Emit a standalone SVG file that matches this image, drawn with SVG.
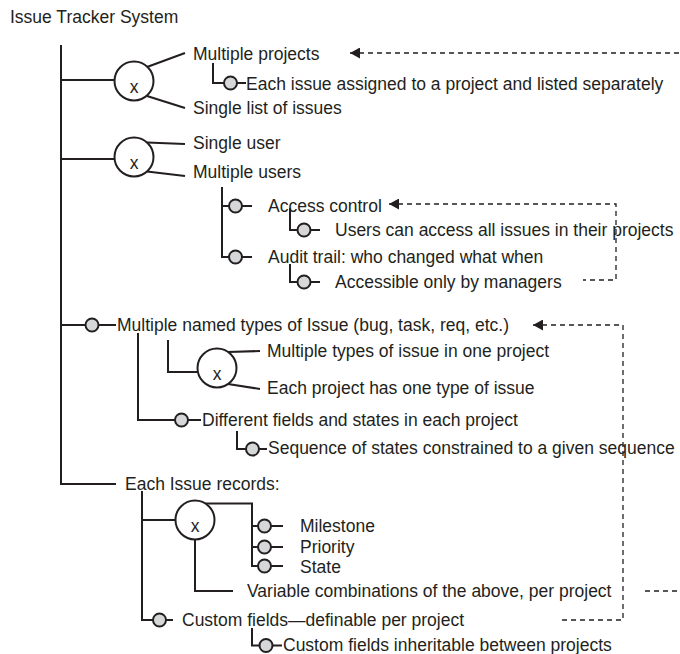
<svg xmlns="http://www.w3.org/2000/svg" width="680" height="654" viewBox="0 0 680 654">
<style>
.t{font-family:"Liberation Sans",Arial,Helvetica,sans-serif;font-size:17.5px;fill:#231f20}
.xt{font-family:"Liberation Sans",Arial,Helvetica,sans-serif;font-size:17.5px;fill:#231f20;text-anchor:middle}
.ln{stroke:#231f20;stroke-width:2;fill:none}
.sc{fill:#d6d7d9;stroke:#231f20;stroke-width:2}
.xc{fill:#ffffff;stroke:#231f20;stroke-width:2}
.dash{stroke:#231f20;stroke-width:1.3;stroke-dasharray:5 4;fill:none}
</style>
<defs>
<marker id="ah" viewBox="0 0 10 11" refX="10" refY="5.5" markerWidth="10" markerHeight="11" markerUnits="userSpaceOnUse" orient="auto-start-reverse">
<path d="M0 0 L10 5.5 L0 11 Z" fill="#231f20"/>
</marker>
</defs>
<rect width="680" height="654" fill="#ffffff"/>

<g id="connectors">
<path class="ln" d="M61 45 V484 H116"/>
<path class="ln" d="M61 80 H115"/>
<path class="ln" d="M147 67 L185 53"/>
<path class="ln" d="M147 96 L185 108"/>
<path class="ln" d="M213 63 V83 H224"/>
<path class="ln" d="M237 83 H246"/>
<path class="ln" d="M61 159 H115"/>
<path class="ln" d="M147 142.5 L185 144"/>
<path class="ln" d="M147 171.5 L185 176"/>
<path class="ln" d="M222 187 V257 H229"/>
<path class="ln" d="M222 206 H229"/>
<path class="ln" d="M242 206 H252"/>
<path class="ln" d="M242 257 H252"/>
<path class="ln" d="M290 208 V230 H297.5"/>
<path class="ln" d="M310.5 230 H320"/>
<path class="ln" d="M290 264 V282 H297.5"/>
<path class="ln" d="M310.5 282 H320"/>
<path class="ln" d="M61 325 H85.5"/>
<path class="ln" d="M98.5 325 H116"/>
<path class="ln" d="M168 340 V372 H198"/>
<path class="ln" d="M228 352 L260 351"/>
<path class="ln" d="M228 384 L260 389"/>
<path class="ln" d="M138 333 V420 H175"/>
<path class="ln" d="M188 420 H201"/>
<path class="ln" d="M237 431 V449 H246"/>
<path class="ln" d="M259 449 H267"/>
<path class="ln" d="M142 491 V620 H153"/>
<path class="ln" d="M142 520 H175.5"/>
<path class="ln" d="M204 503.5 H252 V566 H258"/>
<path class="ln" d="M252 526 H258"/>
<path class="ln" d="M252 547 H258"/>
<path class="ln" d="M271 526 H283"/>
<path class="ln" d="M271 547 H283"/>
<path class="ln" d="M271 566 H283"/>
<path class="ln" d="M195 539.5 V591 H233"/>
<path class="ln" d="M166 620 H173"/>
<path class="ln" d="M252 628 V645.5 H259.5"/>
<path class="ln" d="M272.5 645.5 H282"/>
<path class="dash" d="M350 53 H680" marker-start="url(#ah)"/>
<path class="dash" d="M645 591 H680"/>
<path class="dash" d="M389 204 H616 V280 H583" marker-start="url(#ah)"/>
<path class="dash" d="M533 325 H623 V620 H560" marker-start="url(#ah)"/>
</g>

<g id="title"><text class="t" x="10" y="22.5">Issue Tracker System</text></g>

<g id="xor-projects"><circle class="xc" cx="134" cy="81" r="19.5"/><text class="xt" x="134" y="92.5">x</text></g>
<g id="multiple-projects"><text class="t" x="193" y="60">Multiple projects</text></g>
<g id="each-issue-assigned"><circle class="sc" cx="230.5" cy="83" r="6.5"/><text class="t" x="246" y="90">Each issue assigned to a project and listed separately</text></g>
<g id="single-list"><text class="t" x="193" y="114">Single list of issues</text></g>

<g id="xor-users"><circle class="xc" cx="134" cy="157" r="19.5"/><text class="xt" x="134" y="168.5">x</text></g>
<g id="single-user"><text class="t" x="193" y="149">Single user</text></g>
<g id="multiple-users"><text class="t" x="193" y="178">Multiple users</text></g>
<g id="access-control"><circle class="sc" cx="235.5" cy="206" r="6.5"/><text class="t" x="268" y="212">Access control</text></g>
<g id="users-access"><circle class="sc" cx="304" cy="230" r="6.5"/><text class="t" x="335" y="236">Users can access all issues in their projects</text></g>
<g id="audit-trail"><circle class="sc" cx="235.5" cy="257" r="6.5"/><text class="t" x="268" y="263">Audit trail: who changed what when</text></g>
<g id="accessible-managers"><circle class="sc" cx="304" cy="282" r="6.5"/><text class="t" x="335" y="288">Accessible only by managers</text></g>

<g id="named-types"><circle class="sc" cx="92" cy="325" r="6.5"/><text class="t" x="117" y="331">Multiple named types of Issue (bug, task, req, etc.)</text></g>
<g id="xor-types"><circle class="xc" cx="217" cy="368" r="19.5"/><text class="xt" x="217" y="379.5">x</text></g>
<g id="multiple-types"><text class="t" x="267" y="357">Multiple types of issue in one project</text></g>
<g id="one-type"><text class="t" x="267" y="394">Each project has one type of issue</text></g>
<g id="different-fields"><circle class="sc" cx="181.5" cy="420" r="6.5"/><text class="t" x="202" y="425.5">Different fields and states in each project</text></g>
<g id="sequence-states"><circle class="sc" cx="252.5" cy="449" r="6.5"/><text class="t" x="268" y="454">Sequence of states constrained to a given sequence</text></g>

<g id="issue-records"><text class="t" x="125" y="490">Each Issue records:</text></g>
<g id="xor-records"><circle class="xc" cx="195" cy="520" r="19.5"/><text class="xt" x="195" y="531.5">x</text></g>
<g id="milestone"><circle class="sc" cx="264.5" cy="526" r="6.5"/><text class="t" x="300" y="531.5">Milestone</text></g>
<g id="priority"><circle class="sc" cx="264.5" cy="547" r="6.5"/><text class="t" x="300" y="553">Priority</text></g>
<g id="state"><circle class="sc" cx="264.5" cy="566" r="6.5"/><text class="t" x="300" y="572.5">State</text></g>
<g id="variable-combos"><text class="t" x="247" y="597">Variable combinations of the above, per project</text></g>
<g id="custom-fields"><circle class="sc" cx="159.5" cy="620" r="6.5"/><text class="t" x="182" y="625.5">Custom fields—definable per project</text></g>
<g id="custom-inheritable"><circle class="sc" cx="266" cy="645.5" r="6.5"/><text class="t" x="283" y="650.5">Custom fields inheritable between projects</text></g>
</svg>
